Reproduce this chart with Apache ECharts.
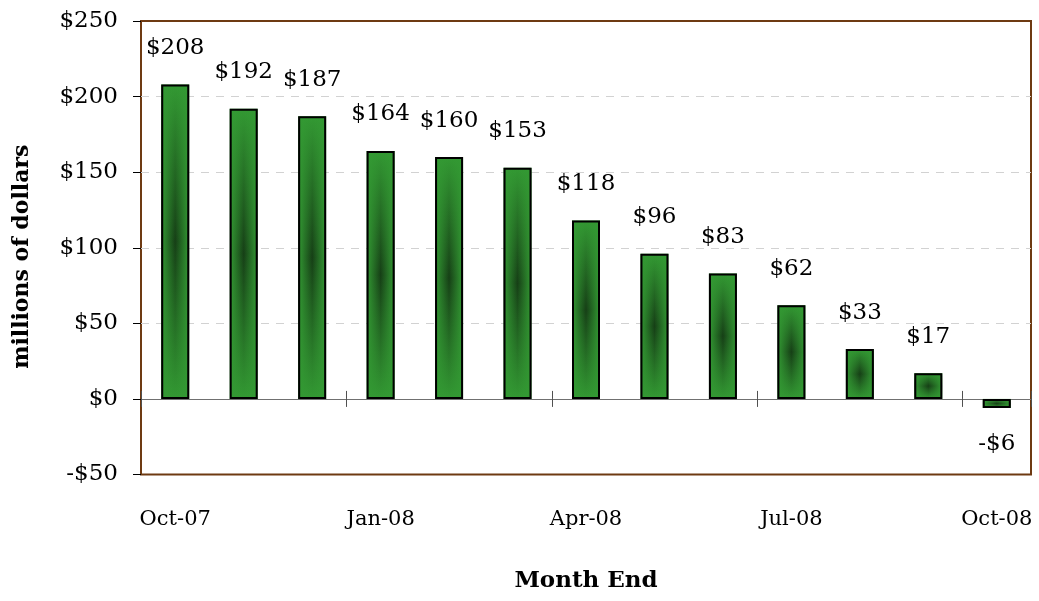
<!DOCTYPE html>
<html>
<head>
<meta charset="utf-8">
<script src="https://cdn.jsdelivr.net/npm/echarts@6/dist/echarts.min.js"></script>
<style>html,body{margin:0;padding:0;background:#fff}#c{width:1039px;height:601px}</style>
</head>
<body>
<div id="c"></div>
<script>
const categories = ['Oct-07','Nov-07','Dec-07','Jan-08','Feb-08','Mar-08','Apr-08','May-08','Jun-08','Jul-08','Aug-08','Sep-08','Oct-08'];
const values = [208, 192, 187, 164, 160, 153, 118, 96, 83, 62, 33, 17, -6];
const yTicks = { min: -50, max: 250, interval: 50 };

const FONT = 'DejaVu Serif';
const BROWN = '#6e3a12';
const LIGHT = '#339933';

function money(v) { return v < 0 ? '-$' + Math.abs(v) : '$' + v; }

const chart = echarts.init(document.getElementById('c'));
chart.setOption({
  animation: false,
  backgroundColor: '#fff',
  grid: { left: 141, right: 8, top: 21, bottom: 126.5, show: true, borderColor: BROWN, borderWidth: 2, backgroundColor: 'transparent' },
  xAxis: [
    {
      type: 'category', data: categories, position: 'bottom',
      axisLine: { show: false, onZero: false },
      axisTick: { show: false },
      axisLabel: { interval: 2, margin: 35, color: '#000', fontFamily: FONT, fontSize: 21 },
      name: 'Month End', nameLocation: 'middle', nameGap: 95,
      nameTextStyle: { fontFamily: FONT, fontSize: 23, fontWeight: 'bold', color: '#000' }
    },
    {
      type: 'category', data: categories, position: 'bottom',
      axisLine: { show: true, onZero: true, onZeroAxisIndex: 0, lineStyle: { color: '#707070', width: 1 } },
      axisTick: { show: true, interval: 2, length: 8, inside: false, lineStyle: { color: '#505050', width: 1 } },
      axisLabel: { show: false }
    },
    {
      type: 'category', data: categories, position: 'bottom',
      axisLine: { show: false, onZero: true, onZeroAxisIndex: 0 },
      axisTick: { show: true, interval: 2, length: 8, inside: true, lineStyle: { color: '#505050', width: 1 } },
      axisLabel: { show: false }
    }
  ],
  yAxis: {
    type: 'value', min: yTicks.min, max: yTicks.max, interval: yTicks.interval,
    axisLine: { show: false },
    axisTick: { show: true, length: 8, lineStyle: { color: '#000', width: 1 } },
    axisLabel: { margin: 23, color: '#000', fontFamily: FONT, fontSize: 23, formatter: money },
    splitLine: { show: true, showMinLine: false, showMaxLine: false, lineStyle: { color: '#d2d2d2', width: 1, type: [8, 7] } },
    name: 'millions of dollars', nameLocation: 'middle', nameGap: 108,
    nameTextStyle: { fontFamily: FONT, fontSize: 22, fontWeight: 'bold', color: '#000', padding: [0, 18, 0, 0] }
  },
  series: [
    {
      type: 'bar', xAxisIndex: 0, data: values, barWidth: 28, silent: true, z: 2,
      itemStyle: {
        color: { type: 'linear', x: 0, y: 0, x2: 0, y2: 1, colorStops: [
          { offset: 0, color: LIGHT }, { offset: 0.5, color: '#163f16' }, { offset: 1, color: LIGHT } ] }
      }
    },
    {
      type: 'bar', xAxisIndex: 0, barWidth: 28, barGap: '-100%', z: 3,
      data: values.map(v => v < 0 ? { value: v, label: { position: 'bottom' } } : v),
      itemStyle: {
        color: { type: 'linear', x: 0, y: 0, x2: 1, y2: 0, colorStops: [
          { offset: 0, color: 'rgba(51,153,51,1)' }, { offset: 0.5, color: 'rgba(51,153,51,0)' }, { offset: 1, color: 'rgba(51,153,51,1)' } ] },
        borderColor: '#000', borderWidth: 2
      },
      label: { show: true, position: 'top', distance: 25, color: '#000', fontFamily: FONT, fontSize: 23,
        formatter: p => money(p.value) }
    }
  ]
});
</script>
</body>
</html>
